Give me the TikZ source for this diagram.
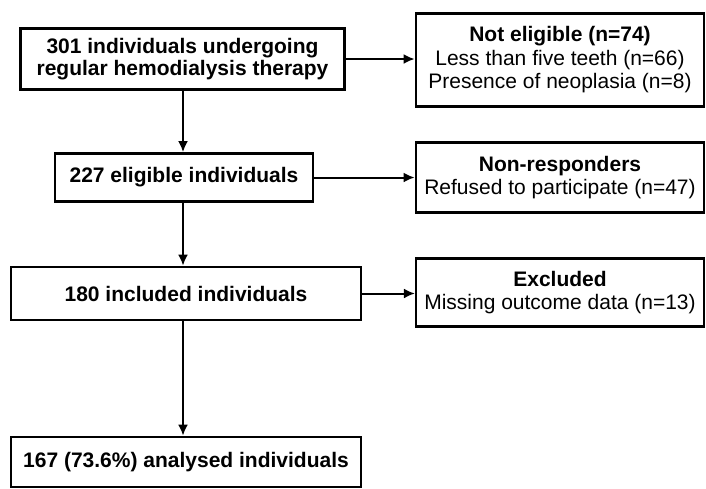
\documentclass[tikz,border=0pt]{standalone}
\usepackage{fontspec}
\setmainfont{Liberation Sans}
\usetikzlibrary{arrows.meta}

\begin{document}
\begin{tikzpicture}[x=1pt,y=-1pt,
box/.style={draw,line width=2.8pt,inner sep=0pt,align=center,font=\fontsize{21}{23.5}\selectfont},
main/.style={box,font=\fontsize{21}{22}\selectfont\bfseries},
arr/.style={line width=2pt,-{Latex[length=11pt,width=10pt]}}]
\useasboundingbox (0,0) rectangle (706,488);
% left column
\node[main,minimum width=324pt,minimum height=61pt] (b1) at (182.5,59) {301 individuals undergoing\\regular hemodialysis therapy};
\node[main,minimum width=258pt,minimum height=48pt] (b2) at (184,177.5) {227 eligible individuals};
\node[main,minimum width=350pt,minimum height=53pt] (b3) at (186,293.5) {180 included individuals};
\node[main,minimum width=350pt,minimum height=50pt] (b4) at (186,462) {167 (73.6\%) analysed individuals};
% right column
\node[box,minimum width=288pt,minimum height=93pt] (ne) at (560,60) {\textbf{Not eligible (n=74)}\\Less than five teeth (n=66)\\Presence of neoplasia (n=8)};
\node[box,minimum width=288pt,minimum height=70pt] (nr) at (560,177.5) {\textbf{Non-responders}\\Refused to participate (n=47)};
\node[box,line width=2.2pt,minimum width=288pt,minimum height=68pt] (ex) at (560,292.5) {\textbf{Excluded}\\Missing outcome data (n=13)};
\coordinate (spine) at (183,0);
\foreach \a/\b in {b1/b2,b2/b3,b3/b4}
  \draw[arr] (\a.south -| spine) -- (\b.north -| spine);
\foreach \a/\b in {b1/ne,b2/nr,b3/ex}
  \draw[arr] (\a.east) -- (\a.east -| \b.west);
\end{tikzpicture}
\end{document}
